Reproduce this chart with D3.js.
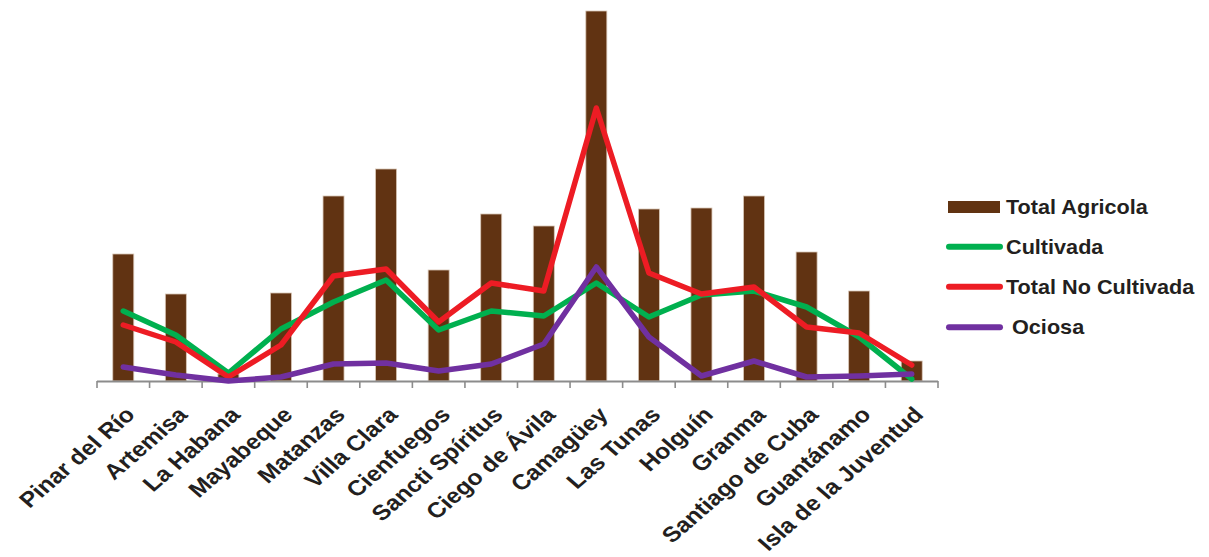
<!DOCTYPE html>
<html><head><meta charset="utf-8">
<script src="https://cdn.jsdelivr.net/npm/d3@7"></script>
<style>body{margin:0;background:#fff;}svg{display:block;}</style>
</head><body>
<svg id="chart" width="1209" height="557"></svg>
<script>
const categories = ["Pinar del Río","Artemisa","La Habana","Mayabeque","Matanzas","Villa Clara","Cienfuegos","Sancti Spíritus","Ciego de Ávila","Camagüey","Las Tunas","Holguín","Granma","Santiago de Cuba","Guantánamo","Isla de la Juventud"];
const totalAgricola = [127, 87, 7, 88, 185, 212, 111, 167, 155, 370, 172, 173, 185, 129, 90, 20];
const cultivada = [70, 46, 8, 52, 79, 101, 51, 70, 65, 98, 64, 86, 90, 74, 44, 2];
const totalNoCultivada = [56, 39, 4, 36, 105, 112, 59, 98, 90, 273, 108, 87, 94, 54, 48, 16];
const ociosa = [14, 6, 0, 4, 17, 18, 10, 17, 37, 114, 44, 5, 20, 4, 5, 7];
const legendLabels = ["Total Agricola","Cultivada","Total No Cultivada","Ociosa"];

const svg = d3.select("#chart");
const FONT = "'Liberation Sans', Arial, sans-serif";
const SX = 1.11;
const LSX = 1.15;

const x = d3.scaleBand().domain(categories).range([97, 938]).paddingInner(0).paddingOuter(0);
const y = d3.scaleLinear().domain([0, 371]).range([381, 10]);
const cx = d => x(d) + x.bandwidth() / 2;
const barW = 21;

// bars
svg.append("g").selectAll("rect").data(categories).join("rect")
  .attr("x", d => cx(d) - barW / 2)
  .attr("y", (d, i) => y(totalAgricola[i]))
  .attr("width", barW)
  .attr("height", (d, i) => y(0) - y(totalAgricola[i]))
  .attr("fill", "#613312")
  .attr("stroke", "#d8c6b6").attr("stroke-width", 0.8);

// axis
const axis = svg.append("g");
axis.append("line").attr("x1", 97).attr("x2", 938).attr("y1", 381.5).attr("y2", 381.5)
  .attr("stroke", "#8c8c8c").attr("stroke-width", 2);
const tickPos = categories.map(d => x(d)).concat([938]);
axis.selectAll("line.tick").data(tickPos).join("line").attr("class", "tick")
  .attr("x1", d => d).attr("x2", d => d).attr("y1", 381).attr("y2", 388)
  .attr("stroke", "#8c8c8c").attr("stroke-width", 1.6);

// lines
const series = [
  {vals: cultivada, color: "#00b04f"},
  {vals: totalNoCultivada, color: "#ed1c24"},
  {vals: ociosa, color: "#7030a0"}
];
const line = d3.line().x((d, i) => cx(categories[i])).y(d => y(d));
svg.append("g").selectAll("path").data(series).join("path")
  .attr("d", s => line(s.vals))
  .attr("fill", "none").attr("stroke", s => s.color)
  .attr("stroke-width", 5.5).attr("stroke-linejoin", "round").attr("stroke-linecap", "round");

// x labels
svg.append("g").selectAll("text").data(categories).join("text")
  .attr("transform", d => `translate(${cx(d) + 13},${416}) scale(${LSX},1) rotate(-45)`)
  .attr("text-anchor", "end")
  .attr("font-family", FONT).attr("font-weight", "bold").attr("font-size", 21.5)
  .attr("fill", "#231f20")
  .text(d => d);

// legend
const lg = svg.append("g");
lg.append("rect").attr("x", 948).attr("y", 201).attr("width", 52).attr("height", 12).attr("fill", "#613312");
const lineLeg = [{y: 246.7, c: "#00b04f"}, {y: 286.7, c: "#ed1c24"}, {y: 327.3, c: "#7030a0"}];
lg.selectAll("line").data(lineLeg).join("line")
  .attr("x1", 949).attr("x2", 1000).attr("y1", d => d.y).attr("y2", d => d.y)
  .attr("stroke", d => d.c).attr("stroke-width", 6).attr("stroke-linecap", "round");
const legPos = [[1006, 213.5], [1006, 253.5], [1006, 293.5], [1012, 334]];
lg.selectAll("text").data(legendLabels).join("text")
  .attr("transform", (d, i) => `translate(${legPos[i][0]},${legPos[i][1]}) scale(${SX},1)`)
  .attr("font-family", FONT).attr("font-weight", "bold").attr("font-size", 19.5)
  .attr("fill", "#231f20")
  .text(d => d);
</script>
</body></html>
